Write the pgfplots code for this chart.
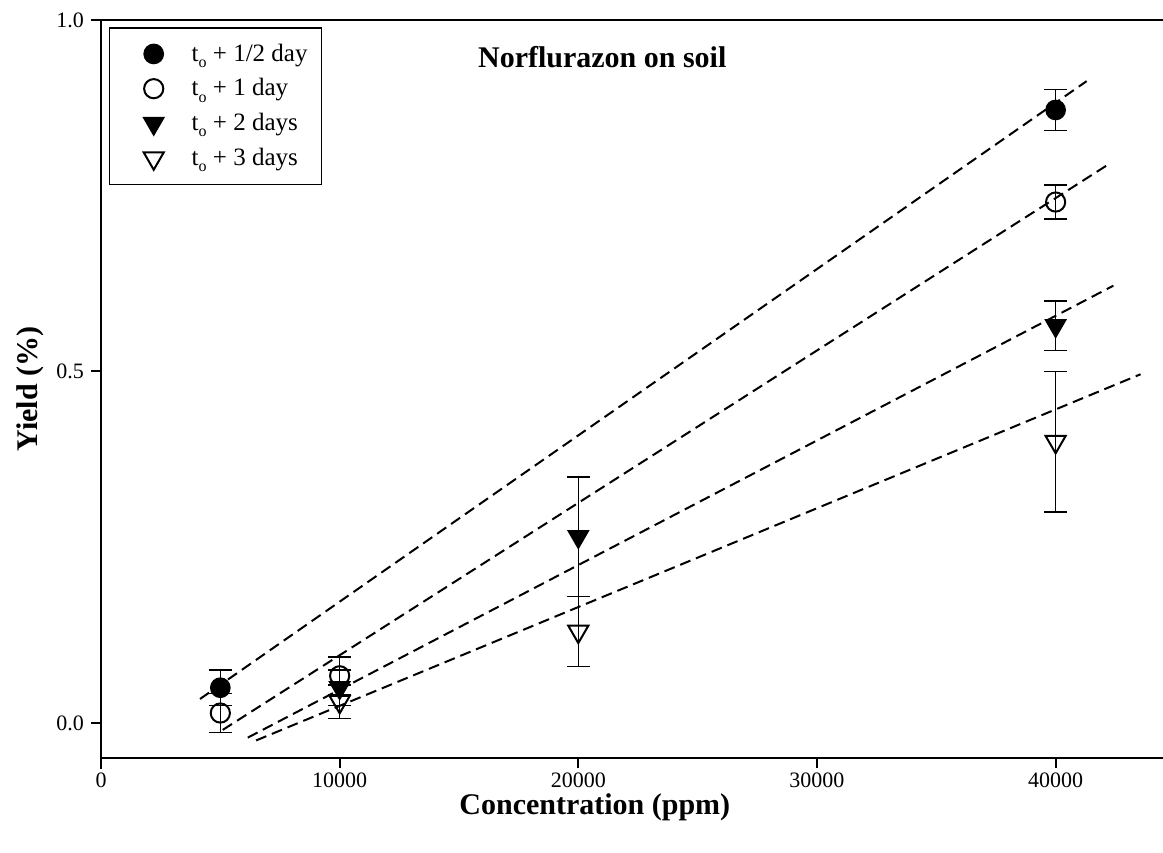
\documentclass[border=0pt]{standalone}
\usepackage{fontspec}
\setmainfont{Liberation Serif}
\usepackage{pgfplots}
\pgfplotsset{compat=1.18}
\newcommand{\tsub}{t\raisebox{-0.55ex}{\fontsize{8}{8}\selectfont o}}
\begin{document}
\begin{tikzpicture}
\begin{axis}[
  name=ax, scale only axis, width=531pt, height=369pt,
  xmin=0, xmax=44500, ymin=-0.05, ymax=1.0,
  clip=false,
  axis x line*=bottom, axis y line*=left,
  axis line style={line width=1pt},
  xtick={0,10000,20000,30000,40000}, ytick={0,0.5,1},
  tick align=outside, major tick length=5pt,
  tick style={line width=1pt, black},
  scaled x ticks=false,
  xticklabel style={/pgf/number format/1000 sep={}, inner ysep=2pt},
  yticklabel style={/pgf/number format/.cd, fixed, fixed zerofill, precision=1},
  /pgf/number format/assume math mode=true,
  ticklabel style={font=\fontsize{11}{13}\selectfont},
  xlabel={Concentration (ppm)}, ylabel={Yield (\%)},
  every axis x label/.style={at={(axis description cs:0.465,-0.067)}, anchor=center, inner ysep=1pt, font=\fontsize{15}{18}\selectfont\bfseries},
  every axis y label/.style={at={(axis description cs:-0.067,0.5)}, anchor=center, rotate=90, font=\fontsize{15}{18}\selectfont\bfseries},
  legend style={at={(axis description cs:0.0075,0.9905)}, anchor=north west,
    draw=black, line width=0.75pt, font=\fontsize{12.5}{14}\selectfont,
    inner xsep=5pt, inner ysep=6pt, row sep=3.2pt, legend cell align=left},
  legend image code/.code={\path[draw=none] (0,0) -- (34pt,0); \draw[#1, only marks] plot coordinates {(17pt,0pt)};},
  error bars/y dir=both, error bars/y explicit,
  error bars/error bar style={line width=0.75pt, black},
  error bars/error mark options={rotate=90, mark size=5.75pt, line width=0.75pt, black},
]
% regression lines
\addplot[forget plot, black, line width=1pt, dash pattern=on 5.5pt off 3pt] coordinates {(4150,0.034) (41300,0.913)};
\addplot[forget plot, black, line width=1pt, dash pattern=on 5.5pt off 3pt] coordinates {(5100,-0.010) (42140,0.793)};
\addplot[forget plot, black, line width=1pt, dash pattern=on 5.5pt off 3pt] coordinates {(6150,-0.021) (42420,0.622)};
\addplot[forget plot, black, line width=1pt, dash pattern=on 5.5pt off 3pt] coordinates {(6500,-0.025) (43560,0.496)};
% data
\addplot[only marks, mark=*, mark size=4.8pt, mark options={fill=black, draw=black, line width=0.75pt}]
  coordinates {(5000,0.050) +- (0,0.025) (40000,0.872) +- (0,0.029)};
\addlegendentry{\tsub{} + 1/2 day}
\addplot[only marks, mark=o, mark size=4.8pt, mark options={draw=black, line width=1pt}]
  coordinates {(5000,0.014) +- (0,0.028) (10000,0.067) +- (0,0.027) (40000,0.741) +- (0,0.024)};
\addlegendentry{\tsub{} + 1 day}
\addplot[only marks, mark=triangle*, mark size=5.8pt, mark options={rotate=180, fill=black, draw=black, line width=0.75pt}]
  coordinates {(10000,0.050) +- (0,0.025) (20000,0.265) +- (0,0.085) (40000,0.565) +- (0,0.035)};
\addlegendentry{\tsub{} + 2 days}
\addplot[only marks, mark=triangle, mark size=5.8pt, mark options={rotate=180, draw=black, line width=1pt}]
  coordinates {(10000,0.030) +- (0,0.024) (20000,0.130) +- (0,0.050) (40000,0.400) +- (0,0.100)};
\addlegendentry{\tsub{} + 3 days}
\draw[line width=1pt] (rel axis cs:0,1) -- (rel axis cs:1,1);
\draw[line width=1pt] (rel axis cs:0,0) -- ++(0pt,-5.5pt);
\node[font=\fontsize{15}{18}\selectfont\bfseries] at (rel axis cs:0.472,0.950) {Norflurazon on soil};
\end{axis}
\pgfresetboundingbox
\path[use as bounding box] ([xshift=-50.5pt,yshift=-47pt]ax.south west) rectangle ([yshift=10pt]ax.north east);
\end{tikzpicture}
\end{document}
